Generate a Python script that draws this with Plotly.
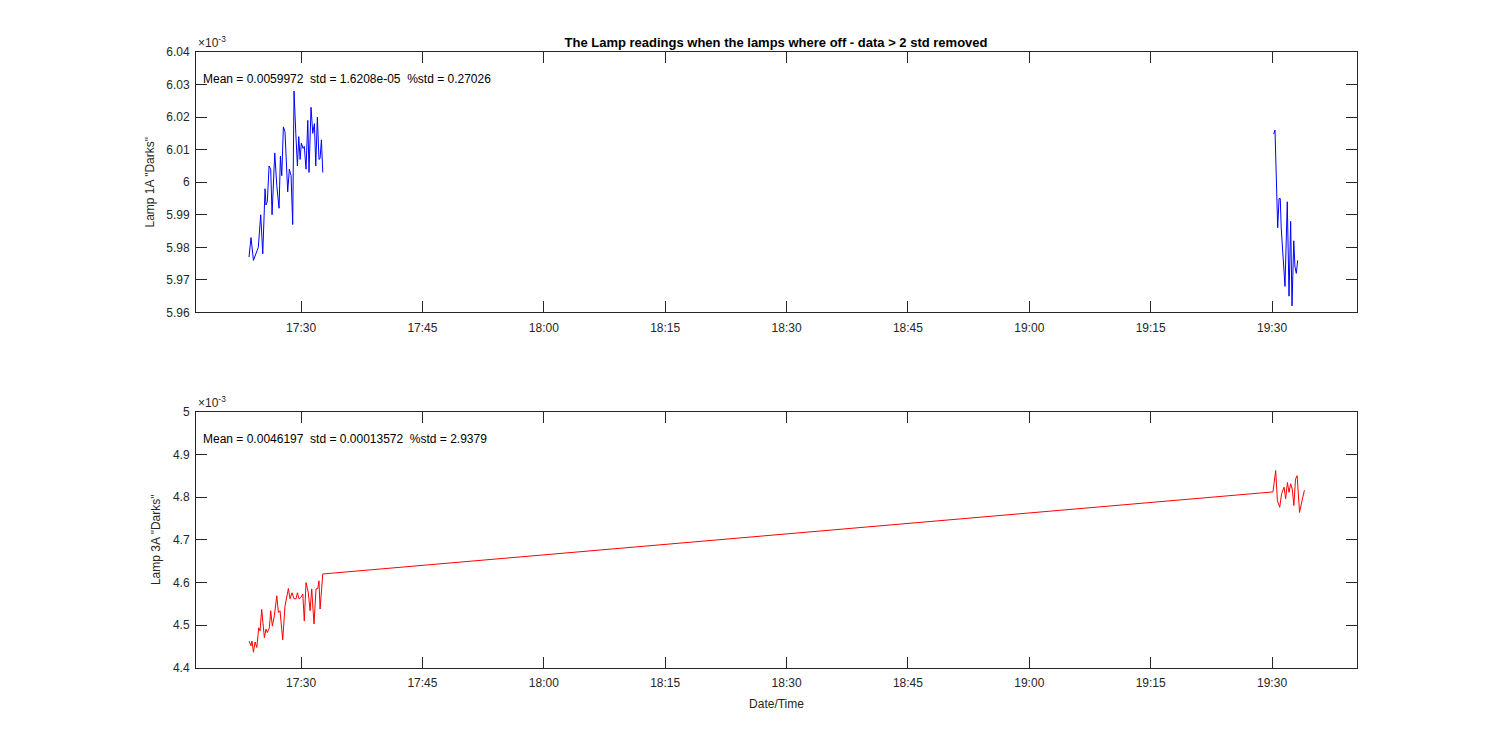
import plotly.graph_objects as go
from plotly.subplots import make_subplots

DAY = "2019-03-14 "

# Lamp 1A darks (units of 1e-3), two clusters with a gap between them
lamp1_time = ["17:23:34", "17:23:49", "17:24:07", "17:24:32", "17:24:43", "17:25:01", "17:25:16",
              "17:25:33", "17:25:40", "17:25:50", "17:26:03", "17:26:15", "17:26:25", "17:26:45",
              "17:27:00", "17:27:17", "17:27:27", "17:27:37", "17:27:49", "17:28:01", "17:28:14",
              "17:28:21", "17:28:33", "17:28:46", "17:28:58", "17:29:08", "17:29:21", "17:29:33",
              "17:29:43", "17:29:53", "17:30:02", "17:30:15", "17:30:24", "17:30:37", "17:30:50",
              "17:30:59", "17:31:14", "17:31:27", "17:31:39", "17:31:49", "17:32:01", "17:32:13",
              "17:32:21", "17:32:31", "17:32:41",
              None,
              "19:30:12", "19:30:22", "19:30:42", "19:30:52", "19:31:01", "19:31:08", "19:31:36",
              "19:31:53", "19:32:06", "19:32:18", "19:32:28", "19:32:41", "19:32:50", "19:33:00",
              "19:33:10"]
lamp1_val = [5.977, 5.983, 5.976, 5.979, 5.980, 5.990, 5.978,
             5.998, 5.993, 5.994, 6.005, 6.004, 5.990, 6.009,
             5.999, 5.992, 6.008, 6.002, 6.017, 6.0155, 6.000,
             5.997, 6.004, 6.002, 5.987, 6.028, 6.015, 6.005,
             6.014, 6.007, 6.012, 6.0104, 6.011, 6.004, 6.019,
             6.003, 6.023, 6.015, 6.018, 6.005, 6.020, 6.007,
             6.0073, 6.013, 6.003,
             None,
             6.0148, 6.016, 5.986, 5.995, 5.995, 5.986, 5.968,
             5.994, 5.965, 5.988, 5.962, 5.982, 5.974, 5.972,
             5.976]

# Lamp 3A darks (units of 1e-3)
lamp3_time = ["17:23:34", "17:23:49", "17:23:56", "17:24:07", "17:24:19", "17:24:32", "17:24:46",
              "17:24:56", "17:25:08", "17:25:28", "17:25:40", "17:25:50", "17:26:05", "17:26:15",
              "17:26:27", "17:26:42", "17:27:00", "17:27:12", "17:27:24", "17:27:44", "17:28:01",
              "17:28:14", "17:28:26", "17:28:38", "17:28:53", "17:29:08", "17:29:23", "17:29:33",
              "17:29:45", "17:29:58", "17:30:13", "17:30:24", "17:30:37", "17:30:54", "17:31:07",
              "17:31:19", "17:31:36", "17:31:51", "17:32:04", "17:32:13", "17:32:21", "17:32:41",
              "19:30:07", "19:30:27", "19:30:40", "19:30:57", "19:31:11", "19:31:29", "19:31:41",
              "19:31:54", "19:32:06", "19:32:18", "19:32:30", "19:32:42", "19:32:54", "19:33:06",
              "19:33:24", "19:33:42", "19:34:00"]
lamp3_val = [4.463, 4.452, 4.463, 4.437, 4.461, 4.448, 4.494,
             4.487, 4.537, 4.471, 4.491, 4.483, 4.494, 4.534,
             4.498, 4.522, 4.569, 4.530, 4.534, 4.466, 4.545,
             4.569, 4.586, 4.562, 4.576, 4.562, 4.562, 4.576,
             4.562, 4.565, 4.573, 4.510, 4.600, 4.576, 4.534,
             4.585, 4.503, 4.585, 4.586, 4.604, 4.538, 4.620,
             4.812, 4.862, 4.791, 4.776, 4.808, 4.823, 4.796,
             4.834, 4.811, 4.831, 4.819, 4.780, 4.842, 4.850,
             4.764, 4.791, 4.816]

lamp1_ticks = [5.96, 5.97, 5.98, 5.99, 6.00, 6.01, 6.02, 6.03, 6.04]
lamp3_ticks = [4.4, 4.5, 4.6, 4.7, 4.8, 4.9, 5.0]
time_ticks = ["17:30", "17:45", "18:00", "18:15", "18:30", "18:45", "19:00", "19:15", "19:30"]

stats1 = "Mean = 0.0059972  std = 1.6208e-05  %std = 0.27026"
stats3 = "Mean = 0.0046197  std = 0.00013572  %std = 2.9379"
title = "The Lamp readings when the lamps where off - data > 2 std removed"


def stamp(t):
    return None if t is None else DAY + t


fig = make_subplots(rows=2, cols=1)

fig.add_trace(go.Scatter(x=[stamp(t) for t in lamp1_time], y=lamp1_val, mode="lines",
                         line=dict(color="#0000FF", width=1), connectgaps=False),
              row=1, col=1)
fig.add_trace(go.Scatter(x=[stamp(t) for t in lamp3_time], y=lamp3_val, mode="lines",
                         line=dict(color="#FF0000", width=1)),
              row=2, col=1)

ink = "#262626"
font = dict(family="Liberation Sans, Arial, sans-serif", size=12, color=ink)

xcommon = dict(
    range=[DAY + "17:17:01", DAY + "19:40:30"],
    tickvals=[DAY + t for t in time_ticks], ticktext=time_ticks,
    showline=True, linecolor=ink, linewidth=1, mirror="ticks",
    ticks="inside", ticklen=11, tickcolor=ink, showgrid=False, zeroline=False,
    tickfont=font, ticklabelstandoff=4,
)
fig.update_xaxes(**xcommon)
fig.update_xaxes(title=dict(text="Date/Time", font=font, standoff=10), row=2, col=1)

ycommon = dict(
    showline=True, linecolor=ink, linewidth=1, mirror="ticks",
    ticks="inside", ticklen=11, tickcolor=ink, showgrid=False, zeroline=False,
    tickfont=font, ticklabelstandoff=3,
)
fig.update_yaxes(**ycommon)
fig.update_yaxes(range=[5.96, 6.04], tickvals=lamp1_ticks, ticktext=[f"{v:g}" for v in lamp1_ticks],
                 domain=[0.5772, 1.0],
                 title=dict(text='Lamp 1A "Darks"', font=font, standoff=9), row=1, col=1)
fig.update_yaxes(range=[4.4, 5.0], tickvals=lamp3_ticks, ticktext=[f"{v:g}" for v in lamp3_ticks],
                 domain=[0.0, 0.4163],
                 title=dict(text='Lamp 3A "Darks"', font=font, standoff=9), row=2, col=1)

for yref, txt in [("y", stats1), ("y2", stats3)]:
    fig.add_annotation(text=txt, xref=yref.replace("y", "x") + " domain", yref=yref + " domain",
                       x=0.004, y=0.93, xanchor="left", yanchor="top", showarrow=False,
                       font=dict(family=font["family"], size=12, color="#000000"))
    fig.add_annotation(text="\u00d710<sup>-3</sup>", xref=yref.replace("y", "x") + " domain",
                       yref=yref + " domain", x=0.0, y=1.0, xanchor="left", yanchor="bottom",
                       showarrow=False, font=dict(family=font["family"], size=12, color=ink))

fig.update_layout(
    width=1500, height=750,
    margin=dict(l=188, r=151, t=44, b=90),
    paper_bgcolor="white", plot_bgcolor="white",
    showlegend=False,
    title=dict(text="<b>" + title + "</b>", x=0.512, xanchor="center", y=0.96, yanchor="top",
               font=dict(family=font["family"], size=13, color="#000000")),
)

fig.write_html("out.html")
